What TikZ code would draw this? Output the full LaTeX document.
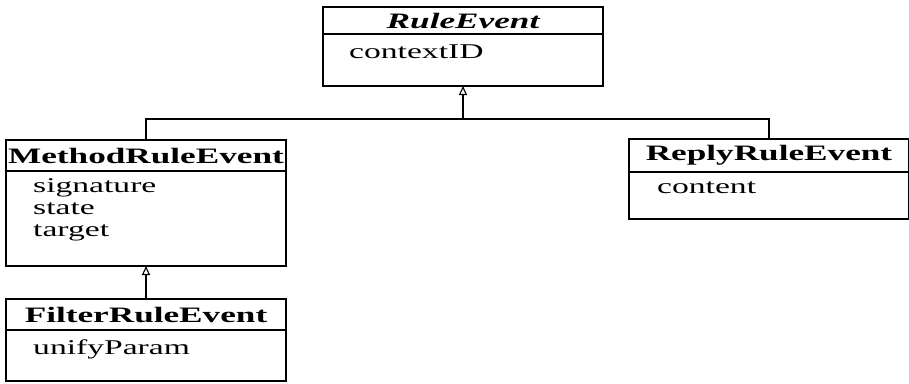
\documentclass[tikz,border=0pt]{standalone}
\usepackage{fontspec}
\setmainfont{Liberation Serif}[FakeStretch=1.6]
\usetikzlibrary{positioning}
\usetikzlibrary{arrows.meta}

\tikzset{
  classtitle/.style={draw, line width=1.1pt, minimum width=280pt, inner sep=0pt, outer sep=0pt, font=\fontsize{22}{22}\selectfont\bfseries},
  classbody/.style={draw, line width=1.1pt, minimum width=280pt, inner sep=0pt, outer sep=0pt},
  attrs/.style={anchor=base west, align=left, inner sep=0pt, font=\fontsize{21}{22}\selectfont},
  inherit/.style={line width=1.1pt, -{Triangle[open, length=9pt, width=8pt]}},
}

\begin{document}
\begin{tikzpicture}[x=1pt, y=1pt]
    \useasboundingbox (0, 0) rectangle (909, -383);
    % RuleEvent
    \node[classtitle, minimum height=27pt, anchor=north] (reT) at (463, -7) {\itshape RuleEvent};
    \node[classbody, minimum height=52pt, below=0pt of reT] (reB) {};
    \node[attrs] (reA) at ([shift={(26, -24)}]reB.north west) {contextID};
    % MethodRuleEvent (base = last line)
    \node[classtitle, minimum height=31pt, anchor=north] (mreT) at (146, -140) {MethodRuleEvent};
    \node[classbody, minimum height=95pt, below=0pt of mreT] (mreB) {};
    \node[attrs] (mreA) at ([shift={(27, -65)}]mreB.north west) {signature\\state\\target};
    % ReplyRuleEvent
    \node[classtitle, minimum height=33pt, anchor=north] (rreT) at (769, -139) {ReplyRuleEvent};
    \node[classbody, minimum height=47pt, below=0pt of rreT] (rreB) {};
    \node[attrs] (rreA) at ([shift={(28, -21)}]rreB.north west) {content};
    % FilterRuleEvent
    \node[classtitle, minimum height=31pt, anchor=north] (freT) at (146, -299) {FilterRuleEvent};
    \node[classbody, minimum height=51pt, below=0pt of freT] (freB) {};
    \node[attrs] (freA) at ([shift={(27, -24)}]freB.north west) {unifyParam};
    % inheritance
    \coordinate (join) at (463, -119);
    \draw[line width=1.1pt] (mreT.north) |- (join) -| (rreT.north);
    \draw[inherit] (join) -- (reB.south);
    \draw[inherit] (freT.north) -- (mreB.south);
\end{tikzpicture}
\end{document}
